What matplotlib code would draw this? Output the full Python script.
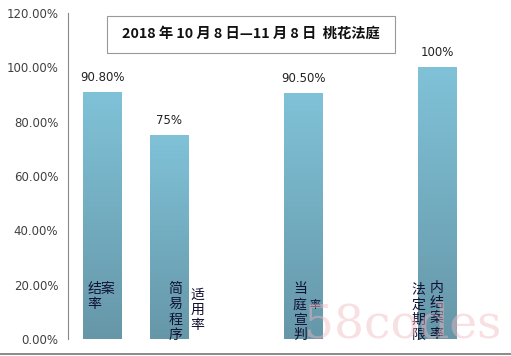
import matplotlib.pyplot as plt
from matplotlib.lines import Line2D
from matplotlib.patches import Rectangle
import numpy as np

plt.rcParams['font.family'] = ['Noto Sans CJK SC', 'DejaVu Sans']

categories = ['结案率', '简易程序适用率', '当庭宣判率', '法定期限内结案率']
values = [90.8, 75, 90.5, 100]
value_labels = ['90.80%', '75%', '90.50%', '100%']
title = '2018 年 10 月 8 日—11 月 8 日  桃花法庭'
y_ticks = [0, 20, 40, 60, 80, 100, 120]

# slots used by the original sheet (one empty column between later bars)
slots = [0, 1, 3, 5]
BAR_W = 0.57
TOP_C = np.array([0x80, 0xc2, 0xd8]) / 255
BOT_C = np.array([0x66, 0x97, 0xa8]) / 255

fig = plt.figure(figsize=(5.11, 3.56), dpi=100)
ax = fig.add_axes([68 / 511, 17 / 356, 437 / 511, 326 / 356])
ax.set_xlim(-0.51, 6.01)
ax.set_ylim(0, 120)

grad = np.linspace(0, 1, 256)[:, None]
cmap_img = BOT_C[None, None, :] * (1 - grad[:, :, None]) + TOP_C[None, None, :] * grad[:, :, None]

for x, v, lab in zip(slots, values, value_labels):
    ax.imshow(cmap_img, extent=(x - BAR_W / 2, x + BAR_W / 2, 0, v),
              origin='lower', aspect='auto', zorder=2)
    ax.text(x, v + 5.5, lab, ha='center', va='center', fontsize=8.5,
            color='#222222', family=['DejaVu Sans'])

# labels written inside the bars
txt = dict(fontsize=10, color='#111133', linespacing=1.12, va='top', ha='center', zorder=3)
ax.text(slots[0] - 0.22, 21, '结案\n率', **{**txt, 'ha': 'left', 'multialignment': 'left'})
ax.text(slots[1] + 0.09, 21, '\n'.join('简易程序'), **txt)
ax.text(slots[1] + 0.42, 19, '\n'.join('适用率'), **txt)
ax.text(slots[2] - 0.05, 21, '\n'.join('当庭宣判'), **txt)
ax.text(slots[2] + 0.18, 12.5, '率', fontsize=8, color='#111133', ha='center', va='center', zorder=3)
ax.text(slots[3] - 0.28, 21, '\n'.join('法定期限'), **txt)
ax.text(slots[3] - 0.01, 21.5, '\n'.join('内结案率'), **txt)

ax.set_yticks(y_ticks)
ax.set_yticklabels([f'{t:.2f}%' for t in y_ticks], family=['DejaVu Sans'])
ax.tick_params(axis='y', length=0, labelsize=8.5, labelcolor='#404040', pad=7)
ax.set_xticks([])
for s in ['top', 'right', 'bottom']:
    ax.spines[s].set_visible(False)
ax.spines['left'].set_color('#888888')
ax.spines['left'].set_linewidth(0.8)

# title box
fig.add_artist(Rectangle((107 / 511, 1 - 53 / 356), 288 / 511, 37 / 356,
                         transform=fig.transFigure, facecolor='white',
                         edgecolor='#999999', linewidth=0.8, zorder=5))
fig.text(251 / 511, 1 - 34 / 356, title, ha='center', va='center',
         fontsize=10.3, fontweight='bold', color='#111111', zorder=6)

# bottom frame line
fig.add_artist(Line2D([0, 1], [2 / 356, 2 / 356], color='#777777', linewidth=1.2))

# watermark
fig.text(304 / 511, 18 / 356, '58codes', fontsize=34, color='#f0b8c0', alpha=0.45,
         family=['DejaVu Serif'], ha='left', va='baseline', zorder=10)

fig.savefig('out.png', dpi=100)
